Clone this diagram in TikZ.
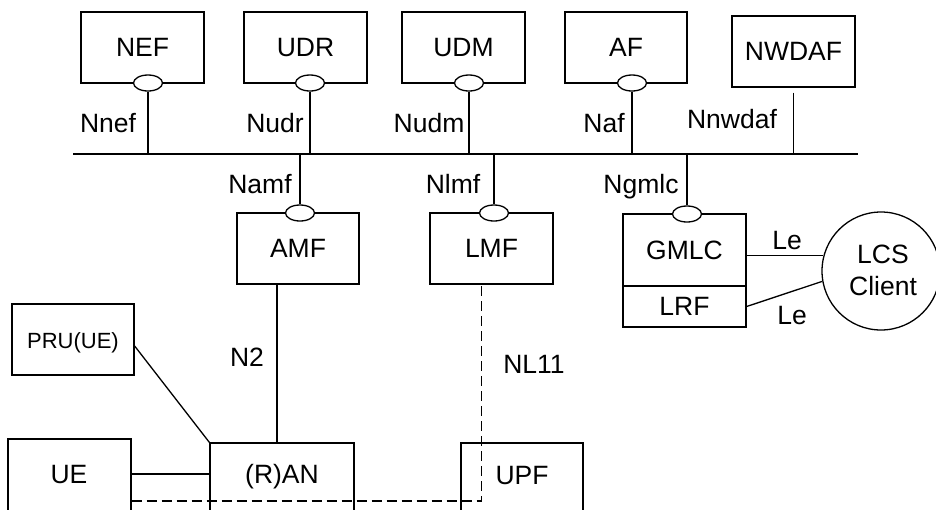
\documentclass[tikz,border=0pt]{standalone}
\usepackage{fontspec}
\setmainfont{Liberation Sans}
\usetikzlibrary{shapes.geometric}
\begin{document}
\begin{tikzpicture}[x=1pt,y=-1pt, line width=1.3pt,
  box/.style={draw, rectangle, inner sep=0pt, font=\fontsize{26.5}{32}\selectfont},
  oval/.style={draw, ellipse, fill=white, minimum width=29pt, minimum height=16pt, inner sep=0pt},
  lbl/.style={inner sep=0pt, anchor=base, font=\fontsize{26.5}{32}\selectfont},
  dashline/.style={dash pattern=on 10pt off 5pt}]
\useasboundingbox (0,0) rectangle (936,509);
\clip (0,0) rectangle (936,509);

% bus
\coordinate (busL) at (73,154);
\coordinate (busR) at (858,154);
\draw (busL) -- (busR);

% top NFs
\node[box, minimum width=123pt, minimum height=71pt] (nef) at (142.5,47.5) {NEF};
\node[box, minimum width=123pt, minimum height=71pt] (udr) at (305.5,47.5) {UDR};
\node[box, minimum width=123pt, minimum height=71pt] (udm) at (463.5,47.5) {UDM};
\node[box, minimum width=122pt, minimum height=71pt] (af) at (626,47.5) {AF};
\node[box, minimum width=123pt, minimum height=71pt] (nwdaf) at (793.5,51.5) {NWDAF};

% middle NFs
\node[box, minimum width=122pt, minimum height=71pt] (amf) at (298,248.5) {AMF};
\node[box, minimum width=123pt, minimum height=71pt] (lmf) at (491.5,248.5) {LMF};
\node[box, minimum width=123pt, minimum height=72pt] (gmlc) at (684.5,250) {GMLC};
\node[box, minimum width=123pt, minimum height=41pt] (lrf) at (684.5,306.5) {LRF};
\node[draw, circle, minimum size=118pt, inner sep=0pt] (lcs) at (881,271) {};
\node[lbl] (lcst1) at (883,263) {LCS};
\node[lbl] (lcst2) at (883,295) {Client};

% bottom
\node[box, minimum width=122pt, minimum height=71pt] (pru) at (73,339.5) {};
\node[inner sep=0pt, anchor=base, font=\fontsize{22}{26}\selectfont] (prut) at (73,348) {PRU(UE)};
\node[box, minimum width=123pt, minimum height=91pt] (ue) at (69.5,484.5) {};
\node[box, minimum width=144pt, minimum height=87pt] (ran) at (282,486.5) {};
\node[box, minimum width=122pt, minimum height=87pt] (upf) at (522,486.5) {};
\node[lbl] (uet) at (69,483) {UE};
\node[lbl] (rant) at (282,483) {(R)AN};
\node[lbl] (upft) at (522,484) {UPF};

% service interface ovals
\node[oval] (onef) at (148,83) {};
\node[oval] (oudr) at (310,83) {};
\node[oval] (oudm) at (469,83) {};
\node[oval] (oaf) at (632,83) {};
\node[oval] (oamf) at (300,213) {};
\node[oval] (olmf) at (494,213) {};
\node[oval] (ogmlc) at (687,214) {};

% connections to bus
\draw (onef.south) -- (onef.south |- busL);
\draw (oudr.south) -- (oudr.south |- busL);
\draw (oudm.south) -- (oudm.south |- busL);
\draw (oaf.south) -- (oaf.south |- busL);
\draw[shorten <=5pt] (nwdaf.south) -- (nwdaf.south |- busL);
\draw (busL -| oamf.north) -- (oamf.north);
\draw (busL -| olmf.north) -- (olmf.north);
\draw (busL -| ogmlc.north) -- (ogmlc.north);

% service labels
\node[lbl] (lnef) at (108,132) {Nnef};
\node[lbl] (ludr) at (275,132) {Nudr};
\node[lbl] (ludm) at (429,132) {Nudm};
\node[lbl] (laf) at (604,132) {Naf};
\node[lbl] (lnwdaf) at (732,128) {Nnwdaf};
\node[lbl] (lamf) at (260,193) {Namf};
\node[lbl] (llmf) at (453,193) {Nlmf};
\node[lbl] (lgmlc) at (641,193) {Ngmlc};

% Le
\draw (gmlc.east |- lcs.165.3) -- (lcs.165.3);
\draw (lrf.east) -- (lcs.190.7);
\node[lbl] (le1) at (787,249) {Le};
\node[lbl] (le2) at (792,324) {Le};

% N2, NL11
\draw ([xshift=-21pt]amf.south) -- ([xshift=-21pt]amf.south |- ran.north);
\node[lbl] (ln2) at (247,366) {N2};
\draw[dashline] ([yshift=-16.5pt]ue.east) -| ([xshift=-10pt]lmf.south);
\node[lbl] (lnl11) at (534,373) {NL11};

% UE - RAN, PRU - RAN
\draw ([yshift=10.5pt]ue.east) -- ([yshift=10.5pt]ue.east -| ran.west);
\draw ([yshift=-6.5pt]pru.east) -- (ran.north west);
\end{tikzpicture}
\end{document}
